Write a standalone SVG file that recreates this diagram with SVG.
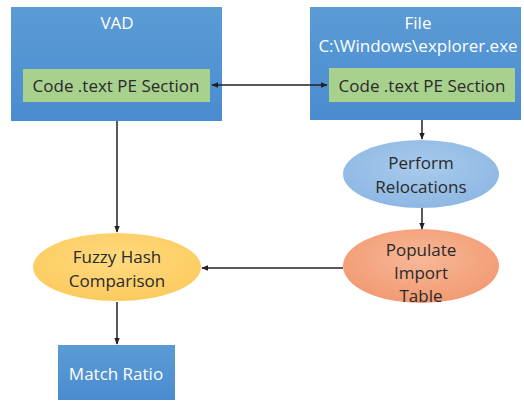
<svg xmlns="http://www.w3.org/2000/svg" width="524" height="402" viewBox="0 0 524 402">
<defs>
<linearGradient id="gBlue" x1="0" y1="0" x2="0" y2="1"><stop offset="0" stop-color="#5B9BD5"/><stop offset="1" stop-color="#4A8CD0"/></linearGradient>
<radialGradient id="gEl1" cx="0.5" cy="0.4" r="0.6"><stop offset="0" stop-color="#A9CBEC"/><stop offset="1" stop-color="#8DB7E3"/></radialGradient>
<radialGradient id="gEl2" cx="0.5" cy="0.4" r="0.6"><stop offset="0" stop-color="#F7B898"/><stop offset="1" stop-color="#F29A72"/></radialGradient>
<radialGradient id="gEl3" cx="0.5" cy="0.4" r="0.6"><stop offset="0" stop-color="#FFDA80"/><stop offset="1" stop-color="#FCCB5E"/></radialGradient>
<marker id="ah" viewBox="0 0 10 10" refX="9" refY="5" markerWidth="7" markerHeight="7" orient="auto-start-reverse" markerUnits="userSpaceOnUse"><path d="M0,1 L10,5 L0,9 z" fill="#222"/></marker>
</defs>
<style>
.box{fill:url(#gBlue);}
.sec{fill:#A9D18E;}
.wt{font-family:"Open Sans","Liberation Sans",sans-serif;font-size:17px;fill:#ffffff;text-anchor:middle;}
.dt{font-family:"Open Sans","Liberation Sans",sans-serif;font-size:17px;fill:#2a2a2a;text-anchor:middle;}
.ln{stroke:#222;stroke-width:1.5;fill:none;}
</style>
<rect width="524" height="402" fill="#ffffff"/>
<g id="vad">
<rect class="box" x="11" y="7" width="211" height="114"/>
<text class="wt" x="117" y="29">VAD</text>
<rect class="sec" x="23" y="69" width="187" height="33"/>
<text class="dt" x="116" y="92">Code .text PE Section</text>
</g>
<g id="file">
<rect class="box" x="310" y="7" width="211" height="113"/>
<text class="wt" x="418" y="29">File</text>
<text class="wt" x="418" y="52">C:\Windows\explorer.exe</text>
<rect class="sec" x="329" y="68" width="186" height="34"/>
<text class="dt" x="422" y="92">Code .text PE Section</text>
</g>
<g id="relocations">
<ellipse cx="421" cy="174" rx="78" ry="34" fill="url(#gEl1)"/>
<text class="dt" x="421" y="169">Perform</text>
<text class="dt" x="421" y="193">Relocations</text>
</g>
<g id="import">
<ellipse cx="421" cy="266" rx="78" ry="37" fill="url(#gEl2)"/>
<text class="dt" x="421" y="256">Populate</text>
<text class="dt" x="421" y="279">Import</text>
<text class="dt" x="421" y="302">Table</text>
</g>
<g id="fuzzy">
<ellipse cx="117" cy="267" rx="84" ry="34" fill="url(#gEl3)"/>
<text class="dt" x="117" y="263">Fuzzy Hash</text>
<text class="dt" x="117" y="287">Comparison</text>
</g>
<g id="match">
<rect class="box" x="58" y="345" width="117" height="55"/>
<text class="wt" x="116" y="380">Match Ratio</text>
</g>
<g id="connectors">
<line class="ln" x1="212" y1="85" x2="327" y2="85" marker-start="url(#ah)" marker-end="url(#ah)"/>
<line class="ln" x1="117" y1="121" x2="117" y2="232" marker-end="url(#ah)"/>
<line class="ln" x1="422" y1="120" x2="422" y2="139" marker-end="url(#ah)"/>
<line class="ln" x1="422" y1="208" x2="422" y2="229" marker-end="url(#ah)"/>
<line class="ln" x1="343" y1="268" x2="202" y2="268" marker-end="url(#ah)"/>
<line class="ln" x1="117" y1="302" x2="117" y2="344" marker-end="url(#ah)"/>
</g>
</svg>
